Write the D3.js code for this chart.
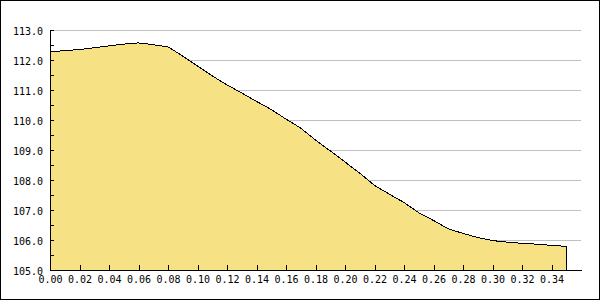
<!DOCTYPE html>
<html>
<head>
<meta charset="utf-8">
<script src="https://cdn.jsdelivr.net/npm/d3@7"></script>
<style>
  body { margin: 0; background: #fff; }
  svg { display: block; }
  .tick text { font-family: "DejaVu Sans Mono", monospace; font-size: 10px; fill: #000; }
</style>
</head>
<body>
<svg id="chart" width="600" height="300"></svg>
<script>
'use strict';

// values
const xValues = [0.00, 0.01, 0.02, 0.03, 0.04, 0.05, 0.06, 0.07, 0.08, 0.09,
                 0.10, 0.11, 0.12, 0.13, 0.14, 0.15, 0.16, 0.17, 0.18, 0.19,
                 0.20, 0.21, 0.22, 0.23, 0.24, 0.25, 0.26, 0.27, 0.28, 0.29,
                 0.30, 0.31, 0.32, 0.33, 0.34, 0.35]
const yValues = [112.28, 112.31, 112.35, 112.41, 112.47, 112.53, 112.57, 112.51, 112.44, 112.13,
                 111.80, 111.47, 111.17, 110.90, 110.62, 110.35, 110.03, 109.73, 109.33, 108.97,
                 108.60, 108.23, 107.82, 107.53, 107.25, 106.91, 106.65, 106.37, 106.22, 106.08,
                 105.98, 105.93, 105.89, 105.86, 105.82, 105.79]
const xTicks = [0.00, 0.02, 0.04, 0.06, 0.08, 0.10, 0.12, 0.14, 0.16, 0.18,
                0.20, 0.22, 0.24, 0.26, 0.28, 0.30, 0.32, 0.34]
const yTicks = [105, 106, 107, 108, 109, 110, 111, 112, 113]
const yMinorTicks = [105.5, 106.5, 107.5, 108.5, 109.5, 110.5, 111.5, 112.5]

document.addEventListener('DOMContentLoaded', function () {
   const svg = d3.select("#chart")
   const data = xValues.map((x, i) => ({ x: x, y: yValues[i] }))

   const x = d3.scaleLinear().domain([0, 0.36]).range([50, 581])
   const y = d3.scaleLinear().domain([105, 113]).range([270, 30])

   // outer frame
   svg.append("rect")
      .attr("x", 0.5).attr("y", 0.5)
      .attr("width", 599).attr("height", 299)
      .style("fill", "#fff")
      .style("stroke", "#000")
      .style("shape-rendering", "crispEdges")

   // horizontal grid
   svg.append("g")
      .selectAll("line")
      .data(yTicks.filter(d => d > 105))
      .enter()
      .append("line")
      .attr("x1", x(0))
      .attr("x2", x(0.36))
      .attr("y1", d => y(d) + 0.5)
      .attr("y2", d => y(d) + 0.5)
      .style("stroke", "#c0c0c0")
      .style("shape-rendering", "crispEdges")

   // area
   const area = d3.area()
      .x(d => x(d.x))
      .y0(y(105))
      .y1(d => y(d.y))

   svg.append("path")
      .datum(data)
      .attr("d", area)
      .style("fill", "#f6e185")
      .style("stroke", "#000")
      .style("stroke-width", 1)
      .style("shape-rendering", "crispEdges")

   // y axis, ticks pointing inward
   const yAxis = d3.axisLeft(y)
      .tickValues(yTicks.concat(yMinorTicks))
      .tickFormat(d => yTicks.includes(d) ? d3.format(".1f")(d) : "")
      .tickSizeInner(-4)
      .tickSizeOuter(0)
      .tickPadding(7)

   svg.append("g")
      .attr("transform", "translate(50,0)")
      .call(yAxis)
      .call(g => g.selectAll("text").attr("dy", "0.45em"))
      .call(g => g.selectAll("line, path").style("shape-rendering", "crispEdges"))

   // x axis
   const xAxis = d3.axisBottom(x)
      .tickValues(xTicks)
      .tickFormat(d3.format(".2f"))
      .tickSizeInner(-5)
      .tickSizeOuter(0)
      .tickPadding(6)

   svg.append("g")
      .attr("transform", "translate(0,270)")
      .call(xAxis)
      .call(g => g.selectAll("line, path").style("shape-rendering", "crispEdges"))
})
</script>
</body>
</html>
